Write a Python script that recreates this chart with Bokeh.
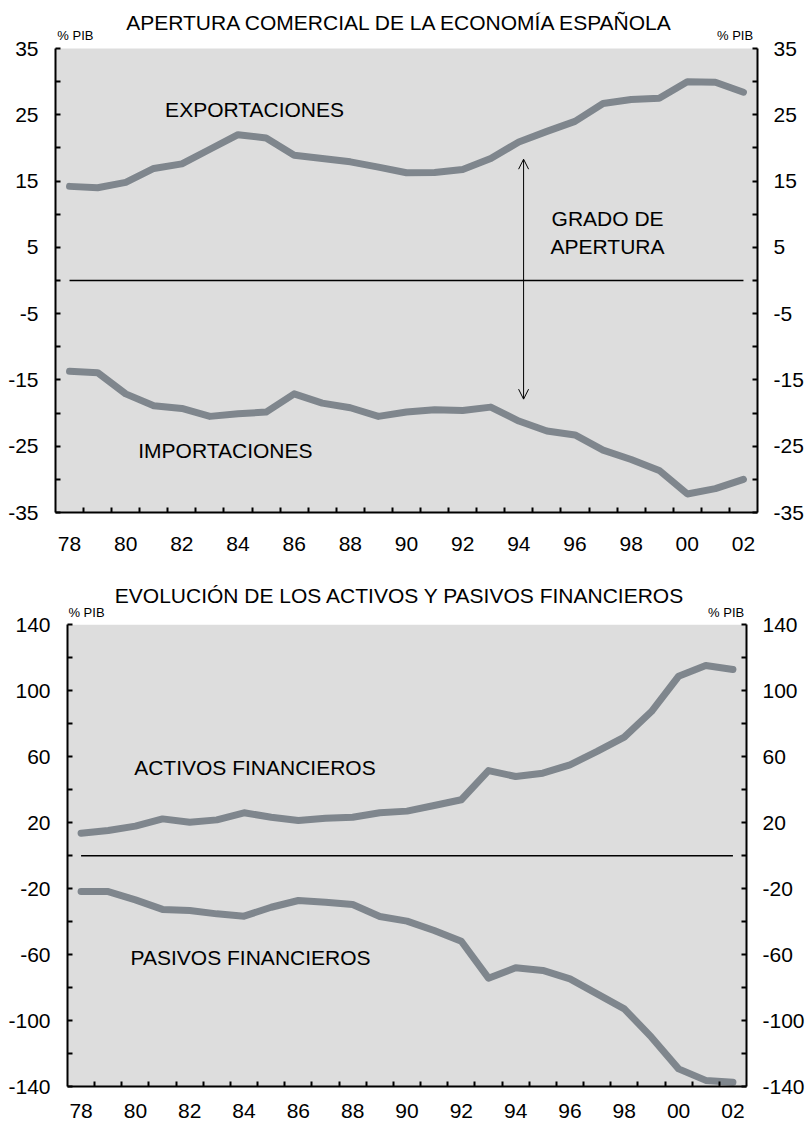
from bokeh.plotting import figure
from bokeh.models import Range1d, LinearAxis, FixedTicker, Label, Arrow, OpenHead, BoxAnnotation
from bokeh.layouts import column
from bokeh.embed import file_html
from bokeh.resources import INLINE

# ---------------- data ----------------
years = ["78", "79", "80", "81", "82", "83", "84", "85", "86", "87", "88", "89",
         "90", "91", "92", "93", "94", "95", "96", "97", "98", "99", "00", "01", "02"]
exportaciones = [14.2, 14.0, 14.8, 16.9, 17.6, 19.8, 22.0, 21.5, 18.9, 18.4, 17.9, 17.1,
                 16.25, 16.3, 16.75, 18.4, 20.9, 22.5, 24.0, 26.7, 27.3, 27.5, 30.0, 29.9, 28.4]
importaciones = [-13.7, -13.9, -17.1, -18.9, -19.3, -20.5, -20.1, -19.85, -17.1, -18.5, -19.2, -20.5,
                 -19.85, -19.5, -19.6, -19.1, -21.2, -22.7, -23.3, -25.6, -27.0, -28.65, -32.2, -31.4, -30.0]
activos = [13.6, 15.3, 17.9, 22.3, 20.3, 21.7, 26.0, 23.3, 21.3, 22.7, 23.3, 26.0,
           27.0, 30.4, 33.9, 51.6, 48.0, 50.0, 55.1, 63.2, 71.9, 87.4, 108.8, 115.3, 112.9]
pasivos = [-21.7, -21.8, -26.8, -32.6, -33.3, -35.3, -36.7, -31.3, -27.2, -28.2, -29.6, -36.9,
           -39.7, -45.4, -51.9, -74.3, -68.0, -69.6, -74.7, -83.8, -92.9, -110.1, -129.3, -136.3, -137.4]

top_ticks = [-35, -25, -15, -5, 5, 15, 25, 35]
top_minor = [-30, -20, -10, 0, 10, 20, 30]
bot_ticks = [-140, -100, -60, -20, 20, 60, 100, 140]
bot_minor = [-120, -80, -40, 0, 40, 80, 120]
year_labels = years[::2]

title_top = "APERTURA COMERCIAL DE LA ECONOMÍA ESPAÑOLA"
title_bot = "EVOLUCIÓN DE LOS ACTIVOS Y PASIVOS FINANCIEROS"
unit = "% PIB"

# ---------------- style ----------------
FONT = "Liberation Sans"
LINE_COLOR = "#7f868d"
BG = "#dddddd"
TICK_FS = "21px"
ANN_FS = "21px"
W = 808

n = len(years)
xs = [i + 0.5 for i in range(n)]
label_pos = [xs[i] for i in range(0, n, 2)]
label_over = {p: lab for p, lab in zip(label_pos, year_labels)}
bounds = list(range(1, n))


def style_axis(ax, ticker, standoff, loc, bnds):
    ax.ticker = ticker
    ax.fixed_location = loc
    ax.bounds = bnds
    ax.axis_line_color = "black"
    ax.axis_line_width = 2
    ax.major_tick_line_color = "black"
    ax.major_tick_line_width = 2
    ax.minor_tick_line_color = "black"
    ax.minor_tick_line_width = 2
    ax.major_tick_in = 5
    ax.major_tick_out = 0
    ax.minor_tick_in = 5
    ax.minor_tick_out = 0
    ax.major_label_text_font = FONT
    ax.major_label_text_font_size = TICK_FS
    ax.major_label_text_color = "black"
    ax.major_label_standoff = standoff


def make_fig(height, px_left, px_right, px_top, px_bottom, ylo, yhi, yt, ym, ls, rs, xstand):
    # pixel geometry of the plotting box inside the canvas
    sx = (px_right - px_left) / n
    sy = (px_bottom - px_top) / (yhi - ylo)
    xr = Range1d(-px_left / sx, n + (W - px_right) / sx)
    yr = Range1d(ylo - (height - px_bottom) / sy, yhi + px_top / sy)
    p = figure(width=W, height=height, x_range=xr, y_range=yr,
               output_backend="svg", toolbar_location=None,
               min_border_left=0, min_border_right=0, min_border_top=0, min_border_bottom=0)
    p.background_fill_color = "white"
    p.border_fill_color = "white"
    p.outline_line_color = None
    p.grid.visible = False
    p.add_layout(BoxAnnotation(left=0, right=n, bottom=ylo, top=yhi, fill_color=BG,
                               fill_alpha=1, line_color=None, level="underlay"))
    over = {v: str(v) for v in yt}
    xa = p.xaxis[0]
    style_axis(xa, FixedTicker(ticks=label_pos, minor_ticks=bounds), xstand, ylo, (0, n))
    xa.major_tick_in = 0
    xa.major_label_overrides = label_over
    ya = p.yaxis[0]
    style_axis(ya, FixedTicker(ticks=yt, minor_ticks=ym), ls, 0, (ylo, yhi))
    ya.major_label_overrides = over
    ra = LinearAxis()
    style_axis(ra, FixedTicker(ticks=yt, minor_ticks=ym), rs, n, (ylo, yhi))
    ra.major_label_overrides = over
    p.add_layout(ra, "right")
    return p


def add_label(p, text, x, y, size=ANN_FS):
    p.add_layout(Label(x=x, y=y, text=text, text_font=FONT, text_font_size=size,
                       text_color="black", text_align="center", text_baseline="middle"))


def series(p, ys):
    p.line(xs, ys, line_color=LINE_COLOR, line_width=7, line_cap="round", line_join="round")


# ---------------- top chart ----------------
p1 = make_fig(570, 55, 757, 48, 512, -35, 35, top_ticks, top_minor, 17, 16, 24)
p1.line([xs[0], xs[-1]], [0, 0], line_color="black", line_width=1.5)
series(p1, exportaciones)
series(p1, importaciones)
p1.add_layout(Arrow(start=OpenHead(size=10, line_width=1, line_color="black"),
                    end=OpenHead(size=10, line_width=1, line_color="black"),
                    x_start=16.67, y_start=-17.9, x_end=16.67, y_end=18.3,
                    line_width=1, line_color="black"))
add_label(p1, "EXPORTACIONES", 7.09, 25.8)
add_label(p1, "IMPORTACIONES", 6.05, -25.6)
add_label(p1, "GRADO DE", 19.66, 9.4)
add_label(p1, "APERTURA", 19.66, 5.1)
add_label(p1, title_top, 12.29, 38.9)
add_label(p1, unit, 0.71, 36.96, "13px")
add_label(p1, unit, 24.2, 36.96, "13px")

# ---------------- bottom chart ----------------
p2 = make_fig(556, 67, 746, 54.3, 516, -140, 140, bot_ticks, bot_minor, 17, 16, 17)
p2.line([xs[0], xs[-1]], [0, 0], line_color="black", line_width=1.5)
series(p2, activos)
series(p2, pasivos)
add_label(p2, "ACTIVOS FINANCIEROS", 6.9, 53.6)
add_label(p2, "PASIVOS FINANCIEROS", 6.74, -61.6)
add_label(p2, title_bot, 12.24, 157.8)
add_label(p2, unit, 0.7, 147.5, "13px")
add_label(p2, unit, 24.25, 147.5, "13px")

layout = column(p1, p2, spacing=0)
open("out.html", "w").write(file_html(layout, INLINE))
